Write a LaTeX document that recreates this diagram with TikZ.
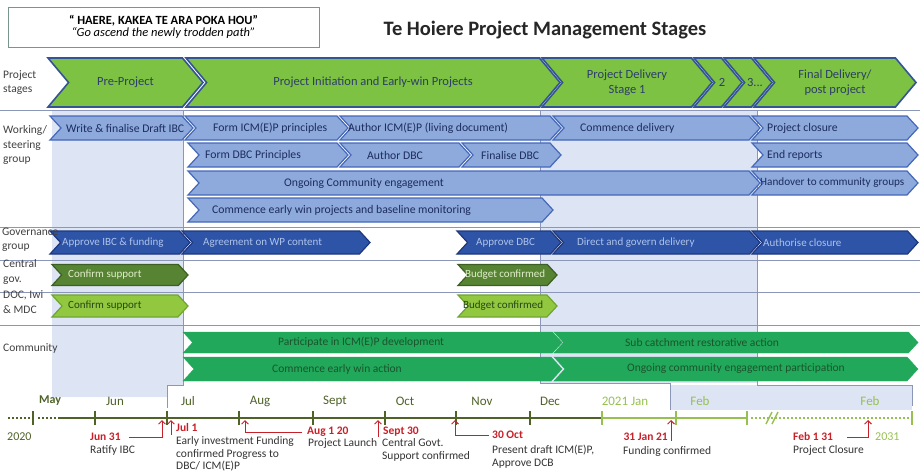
\documentclass[tikz,border=0pt]{standalone}
\usepackage{fontspec}
\setmainfont{Carlito}
\usepackage{tikz}
\usetikzlibrary{shapes.symbols,arrows.meta,positioning}

\definecolor{stagegreen}{RGB}{125,194,66}
\definecolor{stageblue}{RGB}{52,84,150}
\definecolor{stagetext}{RGB}{45,62,105}
\definecolor{wgfill}{RGB}{142,169,219}
\definecolor{wgline}{RGB}{68,104,186}
\definecolor{wgtext}{RGB}{28,45,95}
\definecolor{govfill}{RGB}{46,84,168}
\definecolor{govline}{RGB}{30,55,125}
\definecolor{govtext}{RGB}{175,195,232}
\definecolor{cgfill}{RGB}{86,132,50}
\definecolor{cgline}{RGB}{60,95,35}
\definecolor{cgtext}{RGB}{225,238,205}
\definecolor{docfill}{RGB}{146,200,64}
\definecolor{docline}{RGB}{110,165,50}
\definecolor{doctext}{RGB}{40,70,20}
\definecolor{comfill}{RGB}{34,168,90}
\definecolor{comtext}{RGB}{25,85,45}
\definecolor{colblue}{RGB}{221,228,244}
\definecolor{gridcol}{RGB}{140,150,185}
\definecolor{tldark}{RGB}{79,98,40}
\definecolor{tllight}{RGB}{150,192,80}
\definecolor{notered}{RGB}{200,32,40}
\definecolor{boxline}{RGB}{120,150,140}

\tikzset{chev/.style={signal, signal from=west, signal to=east,
    signal pointer angle=95, inner sep=0pt, line width=1.2pt}}
\tikzset{stage chev/.style={chev, signal pointer angle=100, minimum height=49pt,
    fill=stagegreen, draw=stageblue, line width=1.6pt, text=stagetext,
    align=center, font=\fontsize{12.5}{15}\selectfont}}
\tikzset{wg chev/.style={chev, fill=wgfill, draw=wgline, minimum height=24pt}}
\tikzset{gov chev/.style={chev, fill=govfill, draw=govline, minimum height=23pt}}
\tikzset{cg chev/.style={chev, fill=cgfill, draw=cgline, minimum height=21pt}}
\tikzset{doc chev/.style={chev, fill=docfill, draw=docline, minimum height=22pt}}
\tikzset{com chev/.style={chev, fill=comfill, draw=comfill, line width=0.4pt}}
\tikzset{chev text/.style={anchor=west, inner sep=0pt, font=\fontsize{11.7}{13}\selectfont}}
\tikzset{wg text/.style={chev text, text=wgtext}}
\tikzset{gov text/.style={chev text, text=govtext, font=\fontsize{11}{13}\selectfont}}
\tikzset{cg text/.style={chev text, text=cgtext, font=\fontsize{11}{13}\selectfont}}
\tikzset{doc text/.style={chev text, text=doctext, font=\fontsize{11}{13}\selectfont}}
\tikzset{com text/.style={chev text, text=comtext, font=\fontsize{11.5}{13}\selectfont}}
\tikzset{row label/.style={anchor=west, align=left, inner sep=0pt, text=black!75,
    font=\fontsize{11.5}{14.5}\selectfont}}
\tikzset{grid rule/.style={draw=gridcol, line width=0.7pt}}
\tikzset{month/.style={inner sep=0pt, text=tldark, font=\fontsize{13}{15}\selectfont}}
\tikzset{red date/.style={anchor=west, inner sep=0pt, text=notered, font=\bfseries\fontsize{11.5}{13}\selectfont}}
\tikzset{event/.style={anchor=west, align=left, inner sep=0pt, text=black!80,
    font=\fontsize{11.5}{13}\selectfont}}
\tikzset{red note/.style={draw=notered, line width=0.9pt, -{Straight Barb[length=3.5pt,width=7pt]}}}
\tikzset{tick dark/.style={draw=tldark, line width=1.8pt}}
\tikzset{tick light/.style={draw=tllight, line width=1.8pt}}

\begin{document}
\begin{tikzpicture}[x=1pt, y=-1pt]
  \useasboundingbox (0,0) rectangle (920,471);
  % shaded stage columns
  \fill[colblue] (52,110) -- (183,110) -- (183,385) -- (167,385) -- (167,397) -- (52,397) -- cycle;
  \fill[colblue] (540,110) rectangle (757,383);
  \fill[colblue] (670,385) rectangle (912,410);
  \draw[grid rule] (0,110) -- (920,110);
  \draw[grid rule] (0,227) -- (920,227);
  \draw[grid rule] (0,260) -- (920,260);
  \draw[grid rule] (0,292) -- (920,292);
  \draw[grid rule] (0,325) -- (920,325);
  \draw[grid rule] (183,110) -- (183,385) -- (167,385) -- (167,408);
  \draw[grid rule] (540,110) -- (540,383) -- (670,383) -- (670,410);
  \draw[grid rule] (757,110) -- (757,385) -- (912,385) -- (912,406);

  % heading
  \node [draw=boxline, line width=1pt, minimum width=311pt, minimum height=40pt, align=center]
        (motto) at (163.5,27) {{\bfseries\fontsize{12.5}{16}\selectfont “ HAERE, KAKEA TE ARA POKA HOU”}\\
        {\itshape\fontsize{12.5}{16}\selectfont “Go ascend the newly trodden path”}};
  \node [text=black!85, font=\bfseries\fontsize{20.5}{22}\selectfont] (title) at (545,30)
        {Te Hoiere Project Management Stages};

  % project stages
  \node [stage chev, minimum width=155pt] (st1) at (125.5,82.5) {Pre-Project};
  \node [stage chev, minimum width=374pt] (st2) at (373,82.5) {Project Initiation and Early-win Projects};
  \node [stage chev, minimum width=170pt] (st3) at (627,82.5) {Project Delivery\\Stage 1};
  \node [stage chev, minimum width=48pt]  (st4) at (718,82.5) {};
  \node [stage chev, minimum width=48pt]  (st5) at (748,82.5) {};
  \node [stage chev, minimum width=162pt] (st6) at (835,82.5) {Final Delivery/\\post project};
  \node [text=stagetext, font=\fontsize{12.5}{15}\selectfont] (st4t) at (722,82.5) {2};
  \node [text=stagetext, font=\fontsize{12.5}{15}\selectfont] (st5t) at (755,82.5) {3...};

  % working / steering group
  \node [wg chev, minimum width=143pt] (wg1)  at (121.5,128) {};
  \node [wg chev, minimum width=163pt] (wg2)  at (266.5,128) {};
  \node [wg chev, minimum width=221pt] (wg3)  at (450.5,128) {};
  \node [wg chev, minimum width=207pt] (wg4)  at (656.5,128) {};
  \node [wg chev, minimum width=166pt] (wg5)  at (835,128) {};
  \node [wg chev, minimum width=160pt] (wg6)  at (268,155) {};
  \node [wg chev, minimum width=130pt] (wg7)  at (405,155) {};
  \node [wg chev, minimum width=99pt]  (wg8)  at (511.5,155) {};
  \node [wg chev, minimum width=166pt] (wg9)  at (835,155) {};
  \node [wg chev, minimum width=572pt] (wg10) at (474,183) {};
  \node [wg chev, minimum width=166pt] (wg11) at (835,183) {};
  \node [wg chev, minimum width=365pt] (wg12) at (370.5,210) {};
  \node [wg text] (wg1t)  at (66,128)  {Write \& finalise Draft IBC};
  \node [wg text] (wg2t)  at (213,128) {Form ICM(E)P principles};
  \node [wg text] (wg3t)  at (348,128) {Author ICM(E)P (living document)};
  \node [wg text] (wg4t)  at (580,128) {Commence delivery};
  \node [wg text] (wg5t)  at (767,128) {Project closure};
  \node [wg text] (wg6t)  at (205,155) {Form DBC Principles};
  \node [wg text] (wg7t)  at (367,155) {Author DBC};
  \node [wg text] (wg8t)  at (481,155) {Finalise DBC};
  \node [wg text] (wg9t)  at (767,155) {End reports};
  \node [wg text] (wg10t) at (284,183) {Ongoing Community engagement};
  \node [wg text, font=\fontsize{11.2}{13}\selectfont] (wg11t) at (760,183) {Handover to community groups};
  \node [wg text] (wg12t) at (212,210) {Commence early win projects and baseline monitoring};

  % governance, central gov., DOC
  \node [gov chev, minimum width=140pt] (gv1) at (120,242.5) {};
  \node [gov chev, minimum width=188pt] (gv2) at (276,242.5) {};
  \node [gov chev, minimum width=104pt] (gv3) at (509,242.5) {};
  \node [gov chev, minimum width=207pt] (gv4) at (656.5,242.5) {};
  \node [gov chev, minimum width=166pt] (gv5) at (835,242.5) {};
  \node [gov text] (gv1t) at (62,242.5)  {Approve IBC \& funding};
  \node [gov text] (gv2t) at (203,242.5) {Agreement on WP content};
  \node [gov text] (gv3t) at (476,242.5) {Approve DBC};
  \node [gov text] (gv4t) at (577,242.5) {Direct and govern delivery};
  \node [gov text] (gv5t) at (763,242.5) {Authorise closure};
  \node [cg chev, minimum width=136pt] (cg1) at (120,275) {};
  \node [cg chev, minimum width=99pt]  (cg2) at (507.5,275) {};
  \node [cg text] (cg1t) at (68,275)  {Confirm support};
  \node [cg text] (cg2t) at (465,275) {Budget confirmed};
  \node [doc chev, minimum width=136pt] (dm1) at (120,306) {};
  \node [doc chev, minimum width=99pt]  (dm2) at (507.5,306) {};
  \node [doc text] (dm1t) at (68,306)  {Confirm support};
  \node [doc text] (dm2t) at (463,306) {Budget confirmed};

  % community
  \node [com chev, minimum width=379pt, minimum height=21pt] (cm1) at (372.5,342.5) {};
  \node [com chev, minimum width=364pt, minimum height=21pt] (cm2) at (736,342.5) {};
  \node [com chev, minimum width=379pt, minimum height=24pt] (cm3) at (372.5,369) {};
  \node [com chev, minimum width=364pt, minimum height=24pt] (cm4) at (736,369) {};
  \node [com text] (cm1t) at (278,342.5) {Participate in ICM(E)P development};
  \node [com text] (cm2t) at (625,342.5) {Sub catchment restorative action};
  \node [com text] (cm3t) at (272,369)   {Commence early win action};
  \node [com text] (cm4t) at (627,369)   {Ongoing community engagement participation};

  % row labels
  \node [row label] (lstage) at (3,82.5) {Project\\stages};
  \node [row label] (lwork)  at (3,145)  {Working/\\steering\\group};
  \node [row label] (lgov)   at (2,240)  {Governance\\group};
  \node [row label] (lcg)    at (3,272)  {Central\\gov.};
  \node [row label] (ldoc)   at (3,302)  {DOC, Iwi\\\& MDC};
  \node [row label] (lcom)   at (3,348)  {Community};

  % timeline
  \draw [draw=tldark, line width=2pt, dotted] (8,418) -- (30,418);
  \draw [draw=tldark, line width=2pt, dotted] (38,418) -- (56,418);
  \draw [draw=tldark, line width=2.2pt] (58,418) -- (602,418);
  \draw [draw=tllight, line width=2.2pt] (602,418) -- (747,418);
  \draw [draw=tllight, line width=2pt, dotted] (751,418) -- (912,418);
  \draw [draw=tllight, line width=1.5pt] (766,424) -- (772,412) (772,424) -- (778,412);
  \draw [tick dark] (33,411) -- (33,425) (95,411) -- (95,425) (167,411) -- (167,425)
        (239,411) -- (239,425) (313,411) -- (313,425) (385,411) -- (385,425)
        (456,411) -- (456,425) (530,411) -- (530,425);
  \draw [tick light] (602,411) -- (602,425) (676,411) -- (676,425) (747,411) -- (747,425)
        (912,411) -- (912,425);
  \node [month, font=\bfseries\fontsize{12}{14}\selectfont] (may) at (50,401) {May};
  \node [month] (jun)  at (115,401) {Jun};
  \node [month] (jul)  at (188,401) {Jul};
  \node [month] (aug)  at (260,401) {Aug};
  \node [month] (sep)  at (335,401) {Sept};
  \node [month] (oct)  at (405,401) {Oct};
  \node [month] (nov)  at (482,401) {Nov};
  \node [month] (dec)  at (550,401) {Dec};
  \node [month, text=tllight] (jan)  at (625,401) {2021 Jan};
  \node [month, text=tllight] (feb)  at (700,401) {Feb};
  \node [month, text=tllight] (feb2) at (870,401) {Feb};
  \node [month, anchor=west, font=\fontsize{12}{14}\selectfont] (y2020) at (7,437) {2020};
  \node [month, anchor=west, text=tllight, font=\fontsize{12}{14}\selectfont] (y2031) at (875,437) {2031};

  % milestones
  \coordinate (jun31a) at (162,420);
  \coordinate (jul1a)  at (171,420);
  \coordinate (jul1b)  at (171,435);
  \coordinate (aug1a)  at (245,420);
  \coordinate (sep30a) at (378,420);
  \coordinate (sep30b) at (378,437);
  \coordinate (oct30a) at (455,420);
  \coordinate (jan31a) at (671,420);
  \coordinate (jan31b) at (671,441);
  \coordinate (feb131a) at (868,420);
  \node [red date] (jun31t)  at (90,437)  {Jun 31};
  \node [red date] (jul1t)   at (176,428) {Jul 1};
  \node [red date] (aug1t)   at (307,432) {Aug 1 20};
  \node [red date] (sep30t)  at (383,432) {Sept 30};
  \node [red date] (oct30t)  at (492,435) {30 Oct};
  \node [red date, anchor=east] (jan31t) at (668,437) {31 Jan 21};
  \node [red date] (feb131t) at (793,437) {Feb 1 31};
  \draw [red note] ([xshift=8pt]jun31t.east) -| (jun31a);
  \draw [red note] (jul1b) -- (jul1a);
  \draw [red note] ([xshift=-5pt]aug1t.west) -| (aug1a);
  \draw [red note] (sep30b) -- (sep30a);
  \draw [red note] ([xshift=-3pt]oct30t.west) -| (oct30a);
  \draw [red note] (jan31b) -- (jan31a);
  \draw [red note] ([xshift=14pt]feb131t.east) -| (feb131a);
  \node [event] (ev1) at (90,450)  {Ratify IBC};
  \node [event, font=\fontsize{11.5}{12.5}\selectfont] (ev2) at (176,454) {Early investment Funding\\confirmed Progress to\\DBC/ ICM(E)P};
  \node [event] (ev3) at (308,443) {Project Launch};
  \node [event] (ev4) at (382,449.5) {Central Govt.\\Support confirmed};
  \node [event] (ev5) at (492,456.5) {Present draft ICM(E)P,\\Approve DCB};
  \node [event] (ev6) at (623,451) {Funding confirmed};
  \node [event] (ev7) at (793,450) {Project Closure};
\end{tikzpicture}
\end{document}
